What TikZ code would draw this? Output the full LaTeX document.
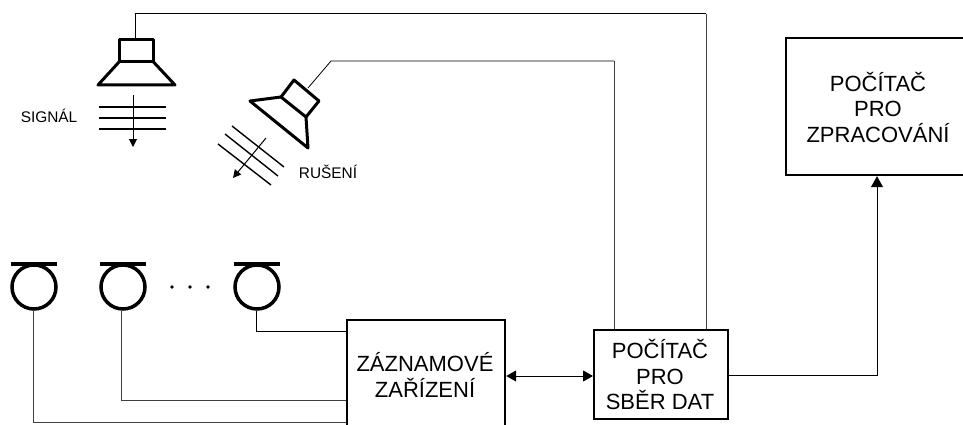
\documentclass[tikz,border=0pt]{standalone}
\usepackage{fontspec}
\setmainfont{Liberation Sans}
\usetikzlibrary{arrows.meta}
\tikzset{
  x=1pt,y=-1pt,
  box/.style={draw=black,line width=2.2pt,fill=white,rectangle,inner sep=0pt,align=center,anchor=north west},
  big/.style={font=\fontsize{22}{25.5}\selectfont,align=center,inner sep=0pt},
  small/.style={font=\fontsize{15.4}{18}\selectfont,inner sep=0pt},
  wire/.style={draw=black!75,line width=1pt},
  link/.style={draw=black,line width=1pt},
  thick shape/.style={draw=black,line width=3pt,line join=round},
  wave/.style={draw=black,line width=1.4pt},
  tip/.style={-{Triangle[length=8pt,width=8pt]}},
  mic/.style={circle,draw=black,line width=3.5pt,minimum size=44pt,inner sep=0pt},
  micbar/.style={draw=black,line width=3.5pt},
}
\begin{document}
\begin{tikzpicture}
\useasboundingbox (0,0) rectangle (963,425);
\clip (0,0) rectangle (963,425);
% boxes
\node[box,minimum width=158pt,minimum height=125pt] (rec) at (346,319) {};
\node[big] (rectext) at (425,375) {ZÁZNAMOVÉ\\ZAŘÍZENÍ};
\node[box,minimum width=134pt,minimum height=89pt] (daq) at (593,329) {};
\node[big] (daqtext) at (660,374.5) {POČÍTAČ\\PRO\\SBĚR DAT};
\node[box,minimum width=190pt,minimum height=137pt] (proc) at (785,37) {};
\node[big] (proctext) at (878,107) {POČÍTAČ\\PRO\\ZPRACOVÁNÍ};
% loudspeaker 1
\draw[thick shape] (119,40) rectangle (153.5,62);
\draw[thick shape] (119,62) -- (98,85) -- (175,85) -- (153.5,62);
\coordinate (spk1) at (135,38);
\coordinate (top1) at (135,14);
% loudspeaker 2
\draw[thick shape] (294,80) -- (319,101) -- (306,117) -- (281,97) -- cycle;
\draw[thick shape] (281,97) -- (250,101) -- (308,148) -- (306,117);
\coordinate (spk2) at (308,88);
\coordinate (top2) at (331,61);
% waves
\foreach \y in {107,118,129} \draw[wave] (99,\y) -- (166,\y);
\coordinate (sa) at (133,95); \coordinate (sb) at (133,147);
\draw[link,tip] (sa) -- (sb);
\draw[wave] (232,126) -- (284,167);
\draw[wave] (225,134) -- (278,176);
\draw[wave] (218,144) -- (271,185);
\coordinate (na) at (266,138); \coordinate (nb) at (233,178);
\draw[link,tip] (na) -- (nb);
\node[small] (signal) at (49,116) {SIGNÁL};
\node[small] (noise) at (328,172) {RUŠENÍ};
% microphones
\node[mic] (mic1) at (34,287) {};
\node[mic] (mic2) at (123,287) {};
\node[mic] (mic3) at (257,287) {};
\draw[micbar] (11,264) -- (57,264);
\draw[micbar] (100,264) -- (146,264);
\draw[micbar] (234,264) -- (280,264);
\foreach \x in {172,190,208} \fill (\x,287) circle (1.9);
% connectors
\draw[wire] (mic1.south -| 33,0) |- (rec.west |- 0,422);
\draw[wire] (mic2.south -| 121.5,0) |- (rec.west |- 0,400);
\draw[link] (mic3.south -| 256,0) |- (rec.west |- 0,331);
\draw[link] (spk1) -- (top1) -- (top1 -| 706,0);
\draw[wire] (top1 -| 706,0) -- (daq.north -| 706,0);
\draw[link,line width=.8pt] (spk2) -- (top2) -- (top2 -| 614,0);
\draw[wire] (top2 -| 614,0) -- (daq.north -| 614,0);
\draw[link,{Triangle[length=10pt,width=11pt]}-{Triangle[length=10pt,width=11pt]}] (rec.east |- 0,376) -- (daq.west |- 0,376);
\draw[link,-{Triangle[length=11pt,width=12pt]}] (daq.east |- 0,375) -| (proc.south -| 877,0);
\end{tikzpicture}
\end{document}
